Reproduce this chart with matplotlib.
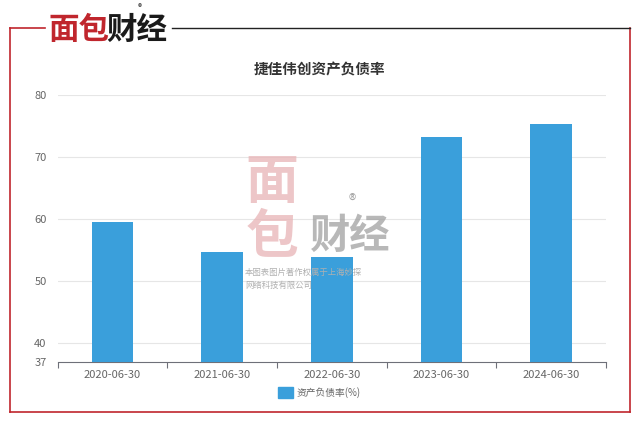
import numpy as np
import matplotlib.pyplot as plt
from matplotlib.patches import Rectangle
from matplotlib.lines import Line2D

plt.rcParams['font.family'] = ['Noto Sans CJK SC', 'DejaVu Sans']

# datos del gráfico
fechas = ['2020-06-30', '2021-06-30', '2022-06-30', '2023-06-30', '2024-06-30']
ratio_deuda = [59.5, 54.8, 53.9, 73.2, 75.3]
ticks_y = [37, 40, 50, 60, 70, 80]

color_barra = '#3a9fdb'
color_texto = '#666666'

fig = plt.figure(figsize=(6.4, 4.24), dpi=100, facecolor='white')
ax = fig.add_axes([0.09, 0.146, 0.857, 0.63])

x = np.arange(len(fechas))
ax.bar(x, ratio_deuda, width=0.38, color=color_barra, zorder=3, label='资产负债率(%)')

ax.set_xlim(-0.5, len(fechas) - 0.5)
ax.set_ylim(37, 80)
ax.set_yticks(ticks_y)
ax.set_yticklabels([str(t) for t in ticks_y])
ax.set_xticks(x)
ax.set_xticklabels(fechas)
ax.tick_params(axis='y', length=0, colors=color_texto, labelsize=8, pad=8)
ax.tick_params(axis='x', length=0, colors=color_texto, labelsize=8, pad=6)
# marcas entre categorías
ax.set_xticks(np.arange(-0.5, len(fechas)), minor=True)
ax.tick_params(axis='x', which='minor', length=4, color='#6e7079', width=0.8)

for t in ticks_y[1:]:
    ax.axhline(t, color='#e6e6e6', lw=0.8, zorder=1)
for s in ['top', 'right', 'left']:
    ax.spines[s].set_visible(False)
ax.spines['bottom'].set_color('#6e7079')
ax.spines['bottom'].set_linewidth(0.8)

fig.text(0.5, 0.835, '捷佳伟创资产负债率', ha='center', va='center',
         fontsize=10.5, fontweight='bold', color='#333333')

# leyenda
fig.patches.append(Rectangle((278 / 640, 1 - 398 / 424), 15 / 640, 11 / 424,
                             transform=fig.transFigure, color=color_barra))
fig.text(297 / 640, 1 - 392.5 / 424, '资产负债率(%)', ha='left', va='center',
         fontsize=7, color=color_texto)

# marca de agua
fig.text(272 / 640, 1 - 182 / 424, '面', ha='center', va='center', fontsize=38,
         fontweight='bold', color='#e8b4b6', alpha=0.75, zorder=5)
fig.text(272 / 640, 1 - 238 / 424, '包', ha='center', va='center', fontsize=38,
         fontweight='bold', color='#e8b4b6', alpha=0.75, zorder=5)
fig.text(350 / 640, 1 - 236 / 424, '财经', ha='center', va='center', fontsize=29,
         fontweight='bold', color='#a0a0a0', alpha=0.75, zorder=5)
fig.text(352 / 640, 1 - 201 / 424, '®', ha='center', va='center', fontsize=11,
         color='#a8a8a8', zorder=5)
fig.text(245 / 640, 1 - 279 / 424, '本图表图片著作权属于上海妙探\n网络科技有限公司', ha='left',
         va='center', fontsize=6, color='#b0b0b0', linespacing=1.5, zorder=5)

# marco
rojo = '#c0262d'
fig.add_artist(Line2D([10 / 640, 10 / 640], [1 - 28 / 424, 1 - 412 / 424], color=rojo, lw=1.2))
fig.add_artist(Line2D([10 / 640, 630 / 640], [1 - 412 / 424, 1 - 412 / 424], color=rojo, lw=1.2))
fig.add_artist(Line2D([630 / 640, 630 / 640], [1 - 28 / 424, 1 - 412 / 424], color=rojo, lw=1.2))
fig.add_artist(Line2D([10 / 640, 45 / 640], [1 - 28 / 424, 1 - 28 / 424], color=rojo, lw=1.2))
fig.add_artist(Line2D([172 / 640, 630 / 640], [1 - 28 / 424, 1 - 28 / 424], color='#222222', lw=1.0))

# logo
fig.text(48 / 640, 1 - 30 / 424, '面包', ha='left', va='center', fontsize=22,
         fontweight='bold', color=rojo)
fig.text(106 / 640, 1 - 30 / 424, '财经', ha='left', va='center', fontsize=22,
         fontweight='bold', color='#1a1a1a')
fig.text(140 / 640, 1 - 8 / 424, '®', ha='center', va='center', fontsize=6, color='#333333')

fig.savefig('out.png', dpi=100, facecolor='white')
